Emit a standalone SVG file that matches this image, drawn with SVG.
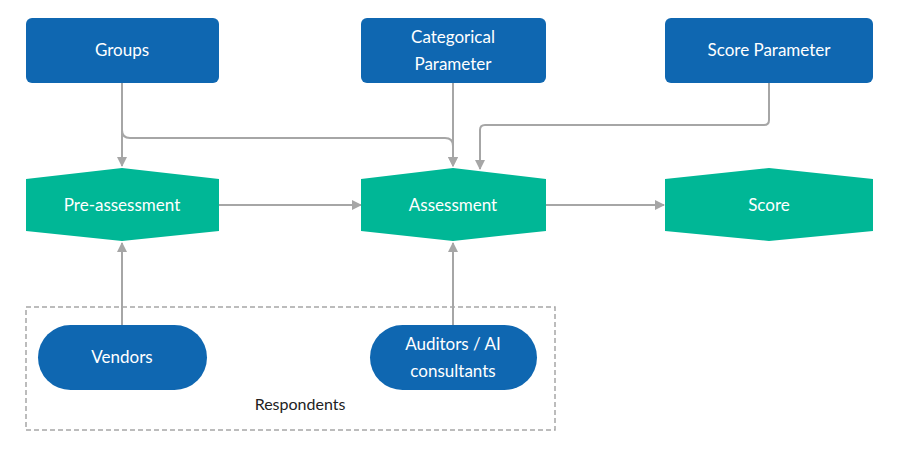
<svg xmlns="http://www.w3.org/2000/svg" width="900" height="450" viewBox="0 0 900 450">
<defs>
<marker id="ah" viewBox="0 0 10 10" refX="9" refY="5" markerWidth="5" markerHeight="5" orient="auto"><path d="M0,0L10,5L0,10z" fill="#a6a6a6"/></marker>
<style>
.box{fill:#0f67b1}
.hex{fill:#00b796}
.t{font-family:"Lato","Liberation Sans",sans-serif;font-size:17px;fill:#fff;text-anchor:middle}
.c{fill:none;stroke:#a6a6a6;stroke-width:2;marker-end:url(#ah)}
</style>
</defs>
<rect width="900" height="450" fill="#fff"/>
<g id="respondents"><rect x="26" y="307" width="529" height="123" fill="none" stroke="#a6a6a6" stroke-width="1.5" stroke-dasharray="5,3"/><text x="300" y="410" font-family="Lato,'Liberation Sans',sans-serif" font-size="16" text-anchor="middle" fill="#222">Respondents</text></g>
<g id="connectors">
<path class="c" d="M122,83V166"/>
<path class="c" d="M122,130Q122,138 130,138H445Q453,138 453,146V166"/>
<path class="c" d="M453,83V166"/>
<path class="c" d="M769,83V120Q769,125 764,125H485Q480,125 480,130V169"/>
<path class="c" d="M219,205H361"/>
<path class="c" d="M546,205H664"/>
<path class="c" d="M122,325V243"/>
<path class="c" d="M453,325V243"/>
</g>
<g id="groups"><rect class="box" x="26" y="18" width="193" height="65" rx="6"/><text class="t" x="122" y="56">Groups</text></g>
<g id="categorical"><rect class="box" x="361" y="18" width="185" height="65" rx="6"/><text class="t" x="453" y="43">Categorical</text><text class="t" x="453" y="70">Parameter</text></g>
<g id="scoreparam"><rect class="box" x="665" y="18" width="208" height="65" rx="6"/><text class="t" x="769" y="56">Score Parameter</text></g>
<g id="pre"><polygon class="hex" points="26,179 122,168 219,179 219,231 122,241 26,231"/><text class="t" x="122" y="211">Pre-assessment</text></g>
<g id="assessment"><polygon class="hex" points="361,179 453,168 546,179 546,231 453,241 361,231"/><text class="t" x="453" y="211">Assessment</text></g>
<g id="score"><polygon class="hex" points="665,179 769,168 873,179 873,231 769,241 665,231"/><text class="t" x="769" y="211">Score</text></g>
<g id="vendors"><rect class="box" x="38" y="325" width="169" height="65" rx="32.5"/><text class="t" x="122" y="363">Vendors</text></g>
<g id="auditors"><rect class="box" x="370" y="325" width="167" height="65" rx="32.5"/><text class="t" x="453" y="350">Auditors / AI</text><text class="t" x="453" y="377">consultants</text></g>
</svg>
